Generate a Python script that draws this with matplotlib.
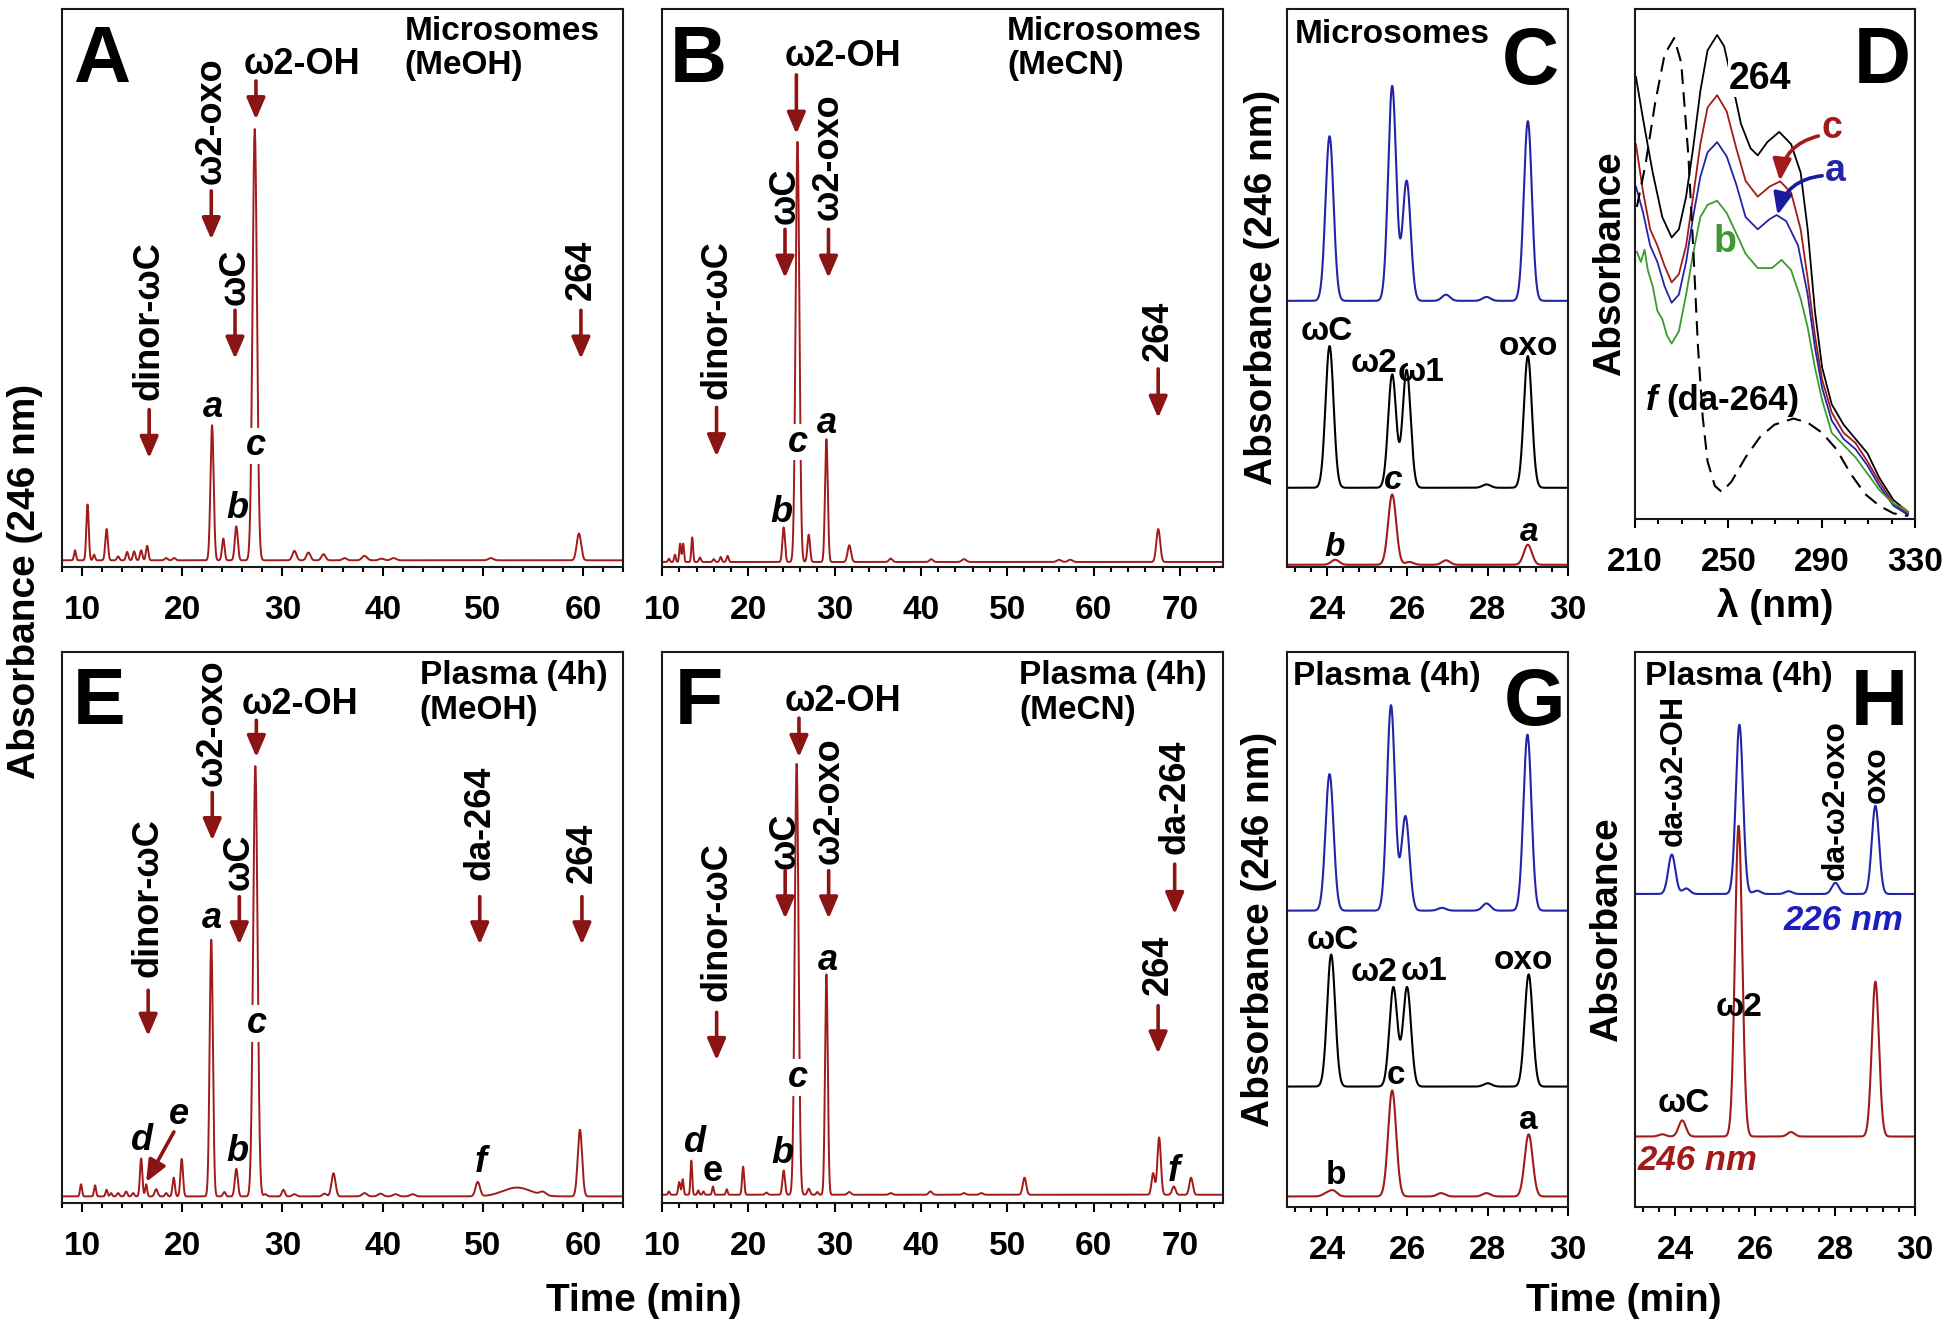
import numpy as np
import matplotlib.pyplot as plt
from matplotlib.ticker import MultipleLocator, FixedLocator

# フォント (Arial 相当)
plt.rcParams['font.family'] = ['Liberation Sans', 'DejaVu Sans']
plt.rcParams['font.weight'] = 'bold'

RED = '#a31a1a'
ARROW = '#8b1414'
BLUE = '#2424a8'
GREEN = '#3d9a30'

# ---- chromatogram peak tables: retention time (min), height (% of panel), sigma (min)
# A: microsomes (MeOH)
A_base = 1.2
A_rt = [9.3, 10.55, 11.2, 12.45, 13.6, 14.5, 15.2, 15.9, 16.5, 18.4, 19.2, 22.98, 24.1, 25.4, 27.24,
        31.2, 32.6, 34.1, 36.2, 38.2, 39.9, 41.1, 50.8, 59.6]
A_h = [1.8, 10.0, 1.0, 5.6, 0.7, 1.5, 1.6, 1.8, 2.6, 0.4, 0.4, 24.2, 3.9, 6.1, 77.3,
       1.7, 1.4, 1.1, 0.4, 0.8, 0.3, 0.4, 0.4, 4.8]
A_w = [0.1, 0.12, 0.1, 0.13, 0.12, 0.12, 0.12, 0.12, 0.12, 0.15, 0.15, 0.16, 0.13, 0.15, 0.22,
       0.2, 0.2, 0.2, 0.2, 0.25, 0.25, 0.25, 0.25, 0.22]

# B: microsomes (MeCN)
B_base = 0.9
B_rt = [10.8, 11.5, 12.1, 12.45, 13.5, 14.4, 16.0, 16.8, 17.6, 24.1, 25.7, 27.0, 29.05, 31.7,
        36.5, 41.2, 45.0, 56.0, 57.3, 67.5]
B_h = [0.6, 1.3, 3.3, 3.3, 4.4, 0.8, 0.5, 0.9, 1.1, 6.2, 75.3, 4.9, 22.0, 3.0,
       0.6, 0.5, 0.5, 0.4, 0.4, 5.9]
B_w = [0.1, 0.1, 0.1, 0.1, 0.1, 0.12, 0.12, 0.12, 0.12, 0.15, 0.22, 0.15, 0.16, 0.2,
       0.2, 0.2, 0.25, 0.25, 0.25, 0.22]

# E: plasma 4h (MeOH)
E_base = 1.2
E_rt = [9.9, 11.3, 12.45, 12.9, 13.6, 14.4, 15.1, 15.9, 16.4, 17.4, 18.4, 19.15, 19.95, 22.9, 24.2,
        25.4, 27.3, 28.3, 30.1, 31.2, 34.2, 35.1, 38.2, 39.8, 41.3, 43.0, 49.5, 53.4, 56.0, 59.7]
E_h = [2.2, 2.0, 1.2, 0.6, 0.6, 0.9, 0.6, 6.9, 2.2, 1.3, 0.6, 3.4, 6.8, 46.6, 0.8,
       5.0, 78.1, 0.4, 1.2, 0.4, 0.5, 4.2, 0.6, 0.5, 0.4, 0.4, 2.6, 1.6, 0.6, 12.1]
E_w = [0.1, 0.1, 0.1, 0.1, 0.12, 0.12, 0.12, 0.12, 0.1, 0.15, 0.12, 0.12, 0.13, 0.16, 0.13,
       0.15, 0.22, 0.15, 0.15, 0.2, 0.2, 0.2, 0.25, 0.25, 0.25, 0.25, 0.22, 1.4, 0.3, 0.22]

# F: plasma 4h (MeCN)
F_base = 1.5
F_rt = [10.8, 12.0, 12.4, 13.4, 14.2, 14.8, 15.9, 17.5, 19.4, 22.1, 24.1, 25.6, 27.0, 28.0, 29.05,
        31.7, 36.5, 41.1, 45.0, 47.0, 52.0, 66.9, 67.6, 69.3, 71.3]
F_h = [0.6, 2.3, 2.8, 6.2, 0.8, 0.6, 1.5, 1.0, 5.1, 0.4, 4.4, 78.2, 1.1, 0.5, 40.0,
       0.5, 0.3, 0.6, 0.3, 0.3, 3.1, 3.9, 10.4, 1.5, 3.1]
F_w = [0.1, 0.12, 0.1, 0.1, 0.1, 0.1, 0.1, 0.1, 0.12, 0.15, 0.15, 0.22, 0.15, 0.12, 0.16,
       0.2, 0.2, 0.2, 0.2, 0.2, 0.2, 0.18, 0.2, 0.2, 0.2]

# C: microsomes, expanded (blue / black standards / red sample)
C_blue_base = 47.7
C_blue_rt = [24.06, 25.62, 25.98, 26.96, 27.97, 29.0]
C_blue_h = [29.5, 38.5, 21.5, 1.1, 0.7, 32.2]
C_black_base = 14.2
C_black_rt = [24.06, 25.62, 25.98, 27.97, 29.0]
C_black_h = [25.4, 20.3, 21.1, 0.6, 23.6]
C_red_base = 0.4
C_red_rt = [24.2, 25.62, 26.05, 26.96, 29.0]
C_red_h = [0.9, 12.6, 0.5, 0.8, 3.6]

# G: plasma, expanded
G_blue_base = 53.4
G_blue_rt = [24.06, 25.59, 25.95, 26.86, 27.97, 28.99]
G_blue_h = [24.6, 37.0, 17.0, 0.5, 1.3, 31.7]
G_black_base = 21.7
G_black_rt = [24.1, 25.65, 25.99, 28.0, 29.02]
G_black_h = [23.8, 17.9, 17.9, 0.6, 20.2]
G_red_base = 1.9
G_red_rt = [23.98, 24.15, 25.62, 26.84, 27.97, 29.02]
G_red_h = [0.5, 1.0, 19.1, 0.6, 0.6, 11.2]

# H: plasma, 226 nm (blue) and 246 nm (red)
H_blue_base = 56.4
H_blue_rt = [23.92, 24.28, 25.61, 26.05, 26.84, 28.01, 29.01]
H_blue_h = [7.1, 1.0, 30.5, 0.6, 0.5, 2.0, 15.9]
H_red_base = 12.7
H_red_rt = [23.68, 24.18, 25.59, 26.9, 29.01]
H_red_h = [0.4, 2.9, 56.0, 0.8, 27.9]

# D: UV spectra, wavelength (nm) / absorbance (% of panel)
D_264_wl = [210.4, 213.5, 217.6, 221.7, 225.7, 228.8, 231.9, 234.9, 238.0, 241.1, 245.2, 248.2, 251.3, 255.4, 259.5,
            262.6, 266.7, 271.8, 276.9, 281.0, 284.0, 287.1, 290.2, 294.3, 299.4, 304.5, 309.6, 314.7, 320.8, 327.0]
D_264 = [86.7, 78.3, 67.9, 59.2, 55.2, 56.8, 63.2, 72.7, 83.9, 91.9, 94.9, 92.7, 86.3, 77.5, 72.7,
         71.3, 73.9, 75.9, 73.5, 67.9, 56.8, 40.8, 29.7, 22.5, 18.5, 15.7, 12.9, 8.1, 3.7, 1.4]
D_c_wl = [210.4, 213.5, 216.5, 219.6, 222.7, 225.7, 228.8, 231.9, 234.9, 238.0, 241.1, 245.2, 249.3, 253.4, 257.4,
          262.6, 267.7, 272.2, 276.9, 281.0, 284.0, 287.1, 290.2, 294.3, 299.4, 304.5, 309.6, 314.7, 320.8, 327.0]
D_c = [73.5, 64.0, 56.8, 53.6, 49.6, 46.4, 48.0, 53.6, 63.2, 73.5, 80.7, 83.1, 79.9, 72.7, 66.3,
       63.2, 65.2, 66.2, 64.0, 56.8, 47.2, 36.0, 27.3, 20.9, 16.9, 14.9, 11.3, 7.3, 3.0, 1.0]
D_a_wl = [210.4, 213.5, 216.5, 219.6, 222.7, 225.7, 228.8, 231.9, 234.9, 238.0, 241.1, 245.2, 249.3, 253.4, 257.4,
          262.6, 267.7, 270.7, 274.8, 279.9, 284.0, 287.1, 290.2, 294.3, 299.4, 304.5, 309.6, 314.7, 320.8, 327.0]
D_a = [65.2, 60.0, 53.6, 50.4, 45.6, 42.4, 44.0, 50.4, 59.2, 67.1, 71.9, 73.9, 71.1, 65.6, 59.2,
       56.8, 58.8, 59.6, 58.4, 53.6, 44.0, 33.7, 25.7, 19.3, 15.7, 13.7, 10.5, 6.5, 2.6, 0.8]
D_b_wl = [210.8, 212.5, 214.1, 215.5, 217.6, 219.6, 221.7, 223.7, 225.7, 228.8, 231.9, 234.9, 238.0, 241.1, 245.2,
          249.3, 253.4, 257.4, 262.6, 268.7, 272.8, 276.9, 281.0, 284.0, 287.1, 290.2, 294.3, 299.4, 304.5, 309.6,
          314.7, 320.8, 324.9, 327.0]
D_b = [52.4, 50.4, 52.8, 48.8, 45.6, 40.8, 39.2, 36.0, 34.4, 36.8, 44.0, 52.0, 59.2, 61.6, 62.4,
       60.0, 56.0, 52.0, 49.2, 49.2, 50.8, 48.8, 43.2, 37.6, 29.7, 23.3, 16.9, 14.5, 12.1, 8.9,
       5.7, 3.0, 2.2, 1.4]
D_f_wl = [210.8, 214.5, 218.6, 222.7, 226.8, 229.8, 232.9, 234.9, 237.0, 239.0, 241.1, 244.2, 247.2, 251.3, 257.4,
          263.6, 269.8, 277.9, 284.0, 290.2, 296.3, 302.4, 308.6, 314.7, 320.8, 327.0]
D_f = [61.2, 69.5, 81.5, 91.1, 94.3, 89.5, 71.1, 53.6, 33.7, 20.1, 11.3, 6.5, 5.3, 7.3, 12.1,
       16.1, 18.5, 19.7, 18.9, 16.9, 13.7, 8.9, 4.9, 2.6, 1.1, 0.6]


def trace(t, base, rt, h, w):
    # ピークテーブルからクロマトグラムを組み立てる
    y = np.full_like(t, base)
    for r, hh, ww in zip(rt, h, w):
        y += hh * np.exp(-0.5 * ((t - r) / ww) ** 2)
    return y


def frac(l, t, r, b):
    return [l / 1950, 1 - b / 1337, (r - l) / 1950, (b - t) / 1337]


def style(ax, xlim, major, minor):
    ax.set_xlim(xlim)
    ax.set_ylim(0, 100)
    ax.set_yticks([])
    ax.xaxis.set_major_locator(major)
    ax.xaxis.set_minor_locator(minor)
    ax.tick_params(axis='x', which='major', direction='out', length=6.5, width=1.5, labelsize=24, pad=14)
    ax.tick_params(axis='x', which='minor', direction='out', length=3.8, width=1.5)
    for s in ax.spines.values():
        s.set_linewidth(1.5)
        s.set_color('#1a1a1a')


def letter(ax, x, y, s):
    ax.text(x, y, s, fontsize=57, fontweight='bold', ha='center', va='baseline')


def arrow(ax, x0, y0, x1, y1, color=ARROW, rad=0.0):
    ax.annotate('', xy=(x1, y1), xytext=(x0, y0),
                arrowprops=dict(arrowstyle='-|>,head_length=0.65,head_width=0.28', color=color, lw=2.6,
                                mutation_scale=20, shrinkA=0, shrinkB=0,
                                connectionstyle='arc3,rad=%s' % rad))


def mark(ax, t, s, ytxt, ytail, yhead):
    # 縦書きラベル + 下向き矢印
    ax.text(t, ytxt, s, rotation=90, ha='center', va='center', fontsize=26, fontweight='bold')
    arrow(ax, t, ytail, t, yhead)


def top_mark(ax, tx, ty, t, ytail, yhead):
    ax.text(tx, ty, 'ω2-OH', ha='center', va='center', fontsize=26, fontweight='bold')
    arrow(ax, t, ytail, t, yhead)


def peak_lab(ax, t, y, s, italic=True, bg=False, size=26, color='black'):
    kw = dict(ha='center', va='center', fontsize=size, fontweight='bold', color=color,
              fontstyle='italic' if italic else 'normal')
    if bg:
        kw['bbox'] = dict(facecolor='white', edgecolor='none', pad=0.5)
    ax.text(t, y, s, **kw)


fig = plt.figure(figsize=(19.5, 13.37), dpi=100)

axA = fig.add_axes(frac(62, 9, 623, 567))
axB = fig.add_axes(frac(662, 9, 1223, 567))
axC = fig.add_axes(frac(1287, 9, 1568, 567))
axD = fig.add_axes(frac(1635, 9, 1915, 519))
axE = fig.add_axes(frac(62, 652, 623, 1203))
axF = fig.add_axes(frac(662, 652, 1223, 1203))
axG = fig.add_axes(frac(1287, 652, 1568, 1207))
axH = fig.add_axes(frac(1635, 652, 1915, 1207))

t1 = np.linspace(8, 64, 9000)
t2 = np.linspace(10, 75, 9000)
t3 = np.linspace(23, 30, 3000)

# ---- A
axA.plot(t1, trace(t1, A_base, A_rt, A_h, A_w), color=RED, lw=1.4)
style(axA, (8, 64), MultipleLocator(10), MultipleLocator(2))
letter(axA, 11.95, 86.9, 'A')
axA.text(42.2, 98.8, 'Microsomes\n(MeOH)', ha='left', va='top', fontsize=24, linespacing=1.15)
top_mark(axA, 32.0, 90.0, 27.36, 87.1, 80.2)
mark(axA, 22.9, 'ω2-oxo', 80.0, 67.4, 58.7)
mark(axA, 25.27, 'ωC', 52.0, 46.0, 37.3)
mark(axA, 16.7, 'dinor-ωC', 44.2, 28.2, 19.5)
mark(axA, 59.8, '264', 53.3, 46.0, 37.3)
peak_lab(axA, 23.1, 28.6, 'a')
peak_lab(axA, 25.5, 10.4, 'b')
peak_lab(axA, 27.4, 21.7, 'c', bg=True)

# ---- B
axB.plot(t2, trace(t2, B_base, B_rt, B_h, B_w), color=RED, lw=1.4)
style(axB, (10, 75), MultipleLocator(10), MultipleLocator(2))
letter(axB, 14.26, 86.9, 'B')
axB.text(50.0, 98.8, 'Microsomes\n(MeCN)', ha='left', va='top', fontsize=24, linespacing=1.15)
top_mark(axB, 30.98, 91.4, 25.57, 88.2, 77.6)
mark(axB, 24.25, 'ωC', 66.6, 60.5, 51.8)
mark(axB, 29.29, 'ω2-oxo', 73.6, 60.5, 51.8)
mark(axB, 16.32, 'dinor-ωC', 44.4, 28.6, 19.8)
mark(axB, 67.49, '264', 42.4, 35.5, 26.7)
peak_lab(axB, 23.88, 9.7, 'b')
peak_lab(axB, 25.71, 22.4, 'c', bg=True)
peak_lab(axB, 29.15, 25.7, 'a')

# ---- C
ones = [0.1] * 7
axC.plot(t3, trace(t3, C_blue_base, C_blue_rt, C_blue_h, ones), color=BLUE, lw=1.5)
axC.plot(t3, trace(t3, C_black_base, C_black_rt, C_black_h, ones), color='black', lw=1.5)
axC.plot(t3, trace(t3, C_red_base, C_red_rt, C_red_h, ones), color=RED, lw=1.5)
style(axC, (23, 30), MultipleLocator(2), MultipleLocator(0.4))
letter(axC, 29.05, 86.6, 'C')
axC.text(23.2, 95.5, 'Microsomes', ha='left', va='center', fontsize=24)
peak_lab(axC, 23.98, 42.2, 'ωC', italic=False, size=24)
peak_lab(axC, 25.17, 36.4, 'ω2', italic=False, size=24)
peak_lab(axC, 26.33, 34.9, 'ω1', italic=False, size=24)
peak_lab(axC, 29.02, 39.6, 'oxo', italic=False, size=24)
peak_lab(axC, 25.65, 15.5, 'c', size=24)
peak_lab(axC, 24.18, 3.5, 'b', size=24)
peak_lab(axC, 29.02, 6.1, 'a', size=24)

# ---- D
axD.plot(D_264_wl, D_264, color='black', lw=1.3)
axD.plot(D_c_wl, D_c, color=RED, lw=1.3)
axD.plot(D_a_wl, D_a, color=BLUE, lw=1.3)
axD.plot(D_b_wl, D_b, color=GREEN, lw=1.3)
axD.plot(D_f_wl, D_f, color='black', lw=1.5, ls=(0, (7, 4)))
style(axD, (210, 330), FixedLocator([210, 250, 290, 330]), FixedLocator(list(range(210, 331, 10))))
letter(axD, 315.8, 85.4, 'D')
axD.text(263.5, 86.3, '264', ha='center', va='center', fontsize=27,
         bbox=dict(facecolor='white', edgecolor='none', pad=0.3))
axD.text(294.3, 76.7, 'c', ha='center', va='center', fontsize=27, color=RED)
axD.text(295.8, 68.3, 'a', ha='center', va='center', fontsize=27, color=BLUE)
axD.text(248.5, 54.4, 'b', ha='center', va='center', fontsize=27, color=GREEN)
arrow(axD, 288.6, 75.1, 272.1, 66.3, color=RED, rad=0.35)
arrow(axD, 290.2, 67.3, 271.1, 59.6, color='#1a1aa0', rad=0.35)
axD.text(217, 23.3, 'f', ha='center', va='center', fontsize=25, fontstyle='italic')
axD.text(223.5, 23.3, '(da-264)', ha='left', va='center', fontsize=25)

# ---- E
axE.plot(t1, trace(t1, E_base, E_rt, E_h, E_w), color=RED, lw=1.4)
style(axE, (8, 64), MultipleLocator(10), MultipleLocator(2))
letter(axE, 11.66, 87.0, 'E')
axE.text(43.7, 98.5, 'Plasma (4h)\n(MeOH)', ha='left', va='top', fontsize=24, linespacing=1.15)
top_mark(axE, 31.8, 90.4, 27.4, 87.6, 80.9)
mark(axE, 23.0, 'ω2-oxo', 87.2, 74.5, 65.8)
mark(axE, 25.7, 'ωC', 61.9, 55.6, 46.9)
mark(axE, 16.6, 'dinor-ωC', 55.4, 38.6, 30.3)
mark(axE, 49.7, 'da-264', 69.0, 55.6, 46.9)
mark(axE, 59.9, '264', 63.5, 55.6, 46.9)
peak_lab(axE, 23.0, 51.6, 'a')
peak_lab(axE, 27.47, 32.6, 'c', bg=True)
peak_lab(axE, 25.5, 9.3, 'b')
peak_lab(axE, 16.0, 11.3, 'd')
peak_lab(axE, 19.64, 16.0, 'e')
peak_lab(axE, 49.8, 7.4, 'f')
arrow(axE, 19.17, 12.9, 16.4, 3.8)

# ---- F
axF.plot(t2, trace(t2, F_base, F_rt, F_h, F_w), color=RED, lw=1.4)
style(axF, (10, 75), MultipleLocator(10), MultipleLocator(2))
letter(axF, 14.27, 87.0, 'F')
axF.text(51.4, 98.5, 'Plasma (4h)\n(MeCN)', ha='left', va='top', fontsize=24, linespacing=1.15)
top_mark(axF, 31.0, 91.1, 25.87, 88.0, 80.9)
mark(axF, 24.27, 'ωC', 65.8, 60.3, 51.6)
mark(axF, 29.31, 'ω2-oxo', 73.1, 60.3, 51.6)
mark(axF, 16.33, 'dinor-ωC', 51.0, 34.6, 25.9)
mark(axF, 69.4, 'da-264', 73.8, 61.5, 52.4)
mark(axF, 67.48, '264', 43.3, 35.8, 27.1)
peak_lab(axF, 29.17, 44.1, 'a')
peak_lab(axF, 25.73, 22.8, 'c', bg=True)
peak_lab(axF, 23.9, 8.9, 'b')
peak_lab(axF, 13.8, 10.9, 'd')
peak_lab(axF, 15.87, 5.8, 'e', italic=False)
peak_lab(axF, 69.3, 5.8, 'f')

# ---- G
axG.plot(t3, trace(t3, G_blue_base, G_blue_rt, G_blue_h, ones), color=BLUE, lw=1.5)
axG.plot(t3, trace(t3, G_black_base, G_black_rt, G_black_h, ones), color='black', lw=1.5)
axG.plot(t3, trace(t3, G_red_base, G_red_rt, G_red_h, ones), color=RED, lw=1.5)
style(axG, (23, 30), MultipleLocator(2), MultipleLocator(0.4))
letter(axG, 29.17, 86.8, 'G')
axG.text(23.14, 95.5, 'Plasma (4h)', ha='left', va='center', fontsize=24)
peak_lab(axG, 24.13, 48.0, 'ωC', italic=False, size=24)
peak_lab(axG, 25.17, 42.2, 'ω2', italic=False, size=24)
peak_lab(axG, 26.42, 42.5, 'ω1', italic=False, size=24)
peak_lab(axG, 28.9, 44.5, 'oxo', italic=False, size=24)
peak_lab(axG, 25.71, 23.7, 'c', italic=False, size=24)
peak_lab(axG, 24.22, 5.7, 'b', italic=False, size=24)
peak_lab(axG, 29.02, 15.5, 'a', italic=False, size=24)

# ---- H
hw = [0.09] * 7
axH.plot(t3, trace(t3, H_blue_base, H_blue_rt, H_blue_h, hw), color=BLUE, lw=1.5)
axH.plot(t3, trace(t3, H_red_base, H_red_rt, H_red_h, hw), color=RED, lw=1.5)
style(axH, (23, 30), MultipleLocator(2), MultipleLocator(0.4))
letter(axH, 29.1, 86.8, 'H')
axH.text(23.26, 95.5, 'Plasma (4h)', ha='left', va='center', fontsize=24)
axH.text(23.98, 78.6, 'da-ω2-OH', rotation=90, ha='center', va='center', fontsize=23)
axH.text(28.01, 73.3, 'da-ω2-oxo', rotation=90, ha='center', va='center', fontsize=23)
axH.text(29.05, 77.9, 'oxo', rotation=90, ha='center', va='center', fontsize=23)
peak_lab(axH, 28.21, 51.6, '226 nm', size=25, color='#1e1ec0')
peak_lab(axH, 25.59, 35.9, 'ω2', italic=False, size=24)
peak_lab(axH, 24.22, 18.6, 'ωC', italic=False, size=24)
peak_lab(axH, 24.57, 8.4, '246 nm', size=25, color=RED)

# ---- 軸ラベル
fig.text(0.0128, 0.565, 'Absorbance (246 nm)', rotation=90, ha='center', va='center', fontsize=28)
fig.text(1262 / 1950, 0.785, 'Absorbance (246 nm)', rotation=90, ha='center', va='center', fontsize=28)
fig.text(1259 / 1950, 0.3048, 'Absorbance (246 nm)', rotation=90, ha='center', va='center', fontsize=28)
fig.text(1610 / 1950, 0.8025, 'Absorbance', rotation=90, ha='center', va='center', fontsize=28)
fig.text(1607 / 1950, 0.3048, 'Absorbance', rotation=90, ha='center', va='center', fontsize=28)
fig.text(1775 / 1950, 0.546, 'λ (nm)', ha='center', va='center', fontsize=28)
fig.text(644 / 1950, 0.027, 'Time (min)', ha='center', va='center', fontsize=28)
fig.text(1624 / 1950, 0.027, 'Time (min)', ha='center', va='center', fontsize=28)

plt.savefig('out.png', dpi=100)
print('savefig: out.png')
